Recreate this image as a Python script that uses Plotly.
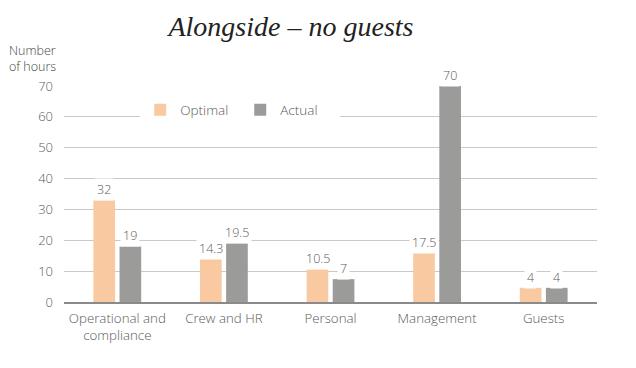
import plotly.graph_objects as go

categories = ["Operational and<br>compliance", "Crew and HR", "Personal", "Management", "Guests"]
optimal_labels = ["32", "14.3", "10.5", "17.5", "4"]
actual_labels = ["19", "19.5", "7", "70", "4"]
# bar heights as drawn in the picture
optimal_heights = [33, 14, 10.6, 16, 4.6]
actual_heights = [18, 19, 7.4, 70, 4.6]
y_ticks = [0, 10, 20, 30, 40, 50, 60, 70]

FONT = "Open Sans"
ORANGE = "#F9C9A1"
GRAY = "#9B9B9A"
TXT = "#5a5a5a"

fig = go.Figure()
fig.add_trace(go.Bar(name="Optimal", x=categories, y=optimal_heights,
                     marker=dict(color=ORANGE, line=dict(width=0))))
fig.add_trace(go.Bar(name="Actual", x=categories, y=actual_heights,
                     marker=dict(color=GRAY, line=dict(width=0))))

lab_font = dict(family=FONT, size=12.5, color=TXT, weight=300)
annotations = []
for cat, h, lab in zip(categories, optimal_heights, optimal_labels):
    annotations.append(dict(x=cat, y=h, xref="x", yref="y", text=lab, showarrow=False,
                            xshift=-13, yshift=-1, yanchor="bottom", bgcolor="white",
                            borderpad=2, font=lab_font))
for cat, h, lab in zip(categories, actual_heights, actual_labels):
    annotations.append(dict(x=cat, y=h, xref="x", yref="y", text=lab, showarrow=False,
                            xshift=13, yshift=-1, yanchor="bottom", bgcolor="white",
                            borderpad=2, font=lab_font))
annotations.append(dict(x=-0.107, y=1.127, xref="paper", yref="paper", xanchor="left",
                        yanchor="middle", align="left", showarrow=False,
                        text="Number<br>of hours",
                        font=dict(family=FONT, size=12.5, color="#444", weight=300)))

# figure is placed 8px from the page's top-left corner
fig.update_layout(
    width=628, height=360,
    margin=dict(l=56, r=39, t=78, b=66),
    paper_bgcolor="white", plot_bgcolor="white",
    barmode="group", bargap=0.51, bargroupgap=0.17,
    title=dict(text="<i>Alongside – no guests</i>", x=0.4506, xanchor="center",
               y=0.95, yanchor="middle", yref="container",
               font=dict(family="Liberation Serif", size=28, color="#222222")),
    font=dict(family=FONT, size=13, color=TXT, weight=300),
    legend=dict(orientation="h", x=0.143, y=0.889, xanchor="left", yanchor="middle",
                bgcolor="white", font=dict(family=FONT, size=13.5, color=TXT, weight=300),
                entrywidth=55, itemclick=False),
    annotations=annotations,
    xaxis=dict(showgrid=False, showline=True, linecolor="#8a8a8a", linewidth=1.5,
               ticklabelstandoff=3,
               tickfont=dict(family=FONT, size=13.3, color=TXT, weight=300), ticks=""),
    yaxis=dict(range=[0, 70], tickvals=y_ticks, showgrid=True, gridcolor="#c9c9c9",
               gridwidth=1.2, zeroline=False, showline=False, ticks="",
               ticklabelstandoff=10,
               tickfont=dict(family=FONT, size=13, color=TXT, weight=300)),
)
fig.write_html("out.html")
